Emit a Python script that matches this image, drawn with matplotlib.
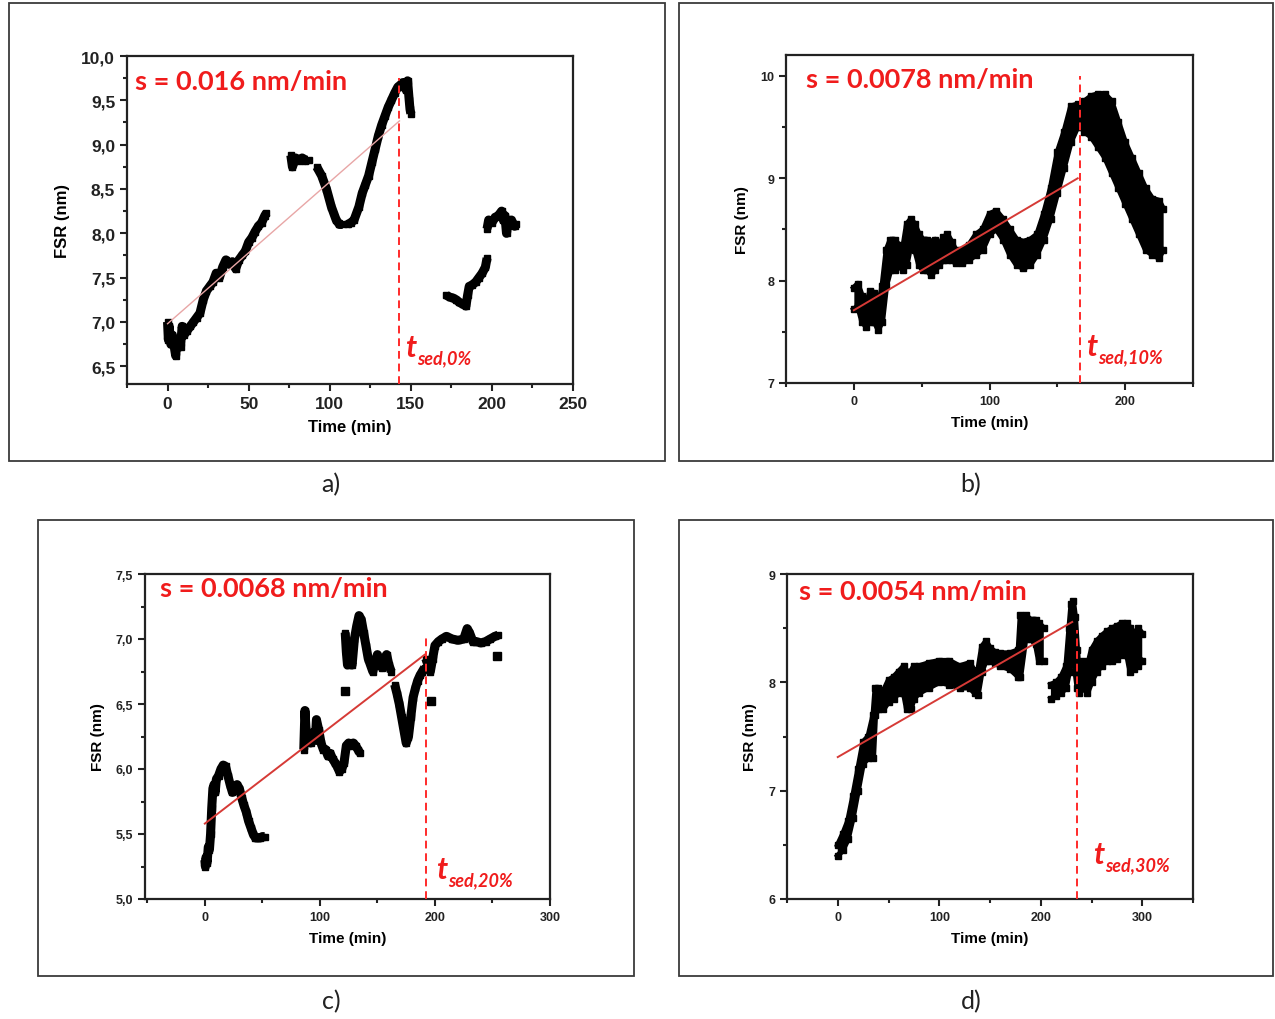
import numpy as np
import matplotlib
matplotlib.use("Agg")
import matplotlib.pyplot as plt
from matplotlib.patches import Rectangle
from matplotlib.ticker import MultipleLocator, FuncFormatter

nan = np.nan

# ---- panel a : FSR vs time, 0% ----
t_a = [0, 0.5, 1, 2, 3, 5, 6, 8, 9, 10, 12, 14, 16, 18, 20, 22, 24, 26, 28, 30, 32, 34, 36, 38, 40,
       42, 44, 46, 48, 50, 52, 54, 56, 58, 60, 61, nan,
       76, 77, 79, 81, 83, 85, 87, nan,
       92, 95, 98, 101, 104, 106, 108, nan,
       111, 113, 115, 118, 120, 122, 124, 126, 128, 130, 132, 134, 136, 138, 140, 142, 144, 145, 147,
       148, 149, 149.5, 150, nan,
       172, 174, 176, 178, 180, 182, 184, 185, 186, 188, 190, 192, 194, 196, 197, nan,
       197, 198, 200, 202, 204, 206, 207, 208, 209, 210, 212, 214, 215]
fsr_a = [7.0, 6.8, 6.95, 6.75, 6.85, 6.62, 6.8, 6.72, 6.95, 6.85, 6.9, 6.95, 7.0, 7.05, 7.1, 7.25,
         7.35, 7.4, 7.45, 7.55, 7.5, 7.62, 7.7, 7.65, 7.68, 7.6, 7.7, 7.75, 7.8, 7.9, 7.95, 8.02, 8.08,
         8.12, 8.2, 8.23, nan,
         8.88, 8.75, 8.85, 8.82, 8.85, 8.82, 8.83, nan,
         8.75, 8.65, 8.5, 8.3, 8.15, 8.1, 8.1, nan,
         8.1, 8.12, 8.15, 8.3, 8.45, 8.55, 8.65, 8.8, 8.95, 9.1, 9.22, 9.32, 9.42, 9.5, 9.58, 9.65,
         9.68, 9.7, 9.62, 9.72, 9.5, 9.4, 9.35, nan,
         7.3, 7.28, 7.27, 7.25, 7.22, 7.2, 7.18, 7.3, 7.4, 7.42, 7.45, 7.5, 7.55, 7.62, 7.72, nan,
         8.05, 8.15, 8.12, 8.18, 8.2, 8.25, 8.15, 8.2, 8.0, 8.12, 8.15, 8.08, 8.1]

# ---- panel b : 10% (noisy band, lower / upper edge) ----
t_b = [0, 3, 6, 9, 12, 15, 18, 21, 24, 27, 30, 33, 36, 39, 42, 45, 48, 51, 54, 57, 60, 63, 66, 69,
       72, 75, 80, 85, 90, 95, 100, 105, 110, 115, 120, 125, 130, 135, 140, 145, 150, 155, 160,
       165, 168, 170, 175, 180, 185, 190, 195, 200, 205, 210, 215, 220, 225, 228]
lo_b = [7.72, 7.75, 7.6, 7.55, 7.6, 7.6, 7.52, 7.6, 7.95, 8.1, 8.1, 8.15, 8.1, 8.15, 8.35, 8.3,
        8.15, 8.1, 8.1, 8.05, 8.1, 8.15, 8.2, 8.2, 8.2, 8.17, 8.17, 8.2, 8.25, 8.3, 8.45, 8.5, 8.4,
        8.25, 8.15, 8.12, 8.15, 8.25, 8.4, 8.6, 8.85, 9.1, 9.35, 9.5, 9.5, 9.45, 9.4, 9.3, 9.2,
        9.05, 8.9, 8.75, 8.6, 8.45, 8.3, 8.25, 8.22, 8.3]
hi_b = [7.93, 7.97, 7.85, 7.75, 7.9, 7.88, 7.75, 7.95, 8.3, 8.4, 8.4, 8.35, 8.3, 8.55, 8.6, 8.55,
        8.45, 8.4, 8.4, 8.38, 8.4, 8.35, 8.42, 8.45, 8.38, 8.3, 8.3, 8.35, 8.45, 8.5, 8.65, 8.68,
        8.6, 8.5, 8.4, 8.38, 8.4, 8.45, 8.65, 8.9, 9.25, 9.45, 9.7, 9.72, 9.7, 9.75, 9.8, 9.82,
        9.82, 9.75, 9.55, 9.35, 9.2, 9.05, 8.9, 8.8, 8.78, 8.7]

# ---- panel c : 20% ----
t_c = [0, 0.5, 1, 2, 3, 4, 5, 6, 7, 8, 9, 10, 12, 14, 16, 18, 20, 22, 24, 26, 28, 30, 32, 34, 36,
       38, 40, 42, 44, 46, 48, 50, 52, nan,
       86, 87, 88, 90, 92, 94, 96, 97, 99, 101, 103, 105, 107, 109, 111, 113, 115, 117, 119, 121,
       123, 125, 127, 129, 131, 133, 135, nan,
       122, 123, 124, 126, 128, 130, 132, 134, 136, 138, 140, 142, 144, 146, 148, 150, 152, 154,
       156, 158, 160, 162, nan,
       165, 167, 169, 171, 173, 175, 177, 179, 181, 183, 185, 187, 189, 191, nan,
       192, 194, 196, 198, 200, 203, 206, 210, 215, 220, 225, 228, 230, 233, 236, 240, 244, 248,
       252, 255]
fsr_c = [5.3, 5.25, 5.32, 5.28, 5.4, 5.38, 5.5, 5.7, 5.85, 5.88, 5.82, 5.92, 5.95, 6.0, 6.03, 6.02,
         5.95, 5.88, 5.82, 5.85, 5.88, 5.85, 5.78, 5.72, 5.67, 5.6, 5.55, 5.5, 5.47, 5.47, 5.47,
         5.48, 5.48, nan,
         6.15, 6.45, 6.3, 6.22, 6.2, 6.28, 6.22, 6.38, 6.3, 6.2, 6.15, 6.15, 6.1, 6.12, 6.08, 6.05,
         6.02, 5.98, 6.0, 6.05, 6.18, 6.2, 6.18, 6.2, 6.18, 6.15, 6.12, nan,
         7.05, 6.9, 6.8, 6.85, 6.8, 7.0, 7.1, 7.18, 7.15, 7.05, 6.95, 6.85, 6.8, 6.75, 6.82, 6.88,
         6.8, 6.78, 6.85, 6.88, 6.8, 6.75, nan,
         6.65, 6.58, 6.5, 6.4, 6.3, 6.2, 6.25, 6.4, 6.55, 6.62, 6.68, 6.72, 6.75, 6.78, nan,
         6.85, 6.8, 6.75, 6.85, 6.95, 6.98, 7.0, 7.02, 7.0, 6.99, 7.0, 7.08, 7.05, 6.98, 6.98, 6.97,
         6.98, 7.0, 7.02, 7.03]
t_c_single = [122, 197, 254]
fsr_c_single = [6.6, 6.52, 6.87]

# ---- panel d : 30% (noisy band, lower / upper edge) ----
t_d = [0, 5, 10, 15, 20, 25, 30, 35, 37, 40, 45, 50, 55, 60, 65, 68, 72, 75, 80, 90, 100, 110,
       120, 130, 135, 138, 142, 146, 150, 155, 160, 170, 178, 180, 185, 190, 195, 198, 203, nan,
       210, 215, 220, 225, 228, 230, 232, 234, 236, 238, 242, 246, 250, 255, 260, 265, 270, 275,
       280, 285, 288, 292, 296, 300]
lo_d = [6.4, 6.45, 6.55, 6.75, 7.0, 7.25, 7.3, 7.3, 7.7, 7.75, 7.75, 7.82, 7.85, 7.9, 7.9, 7.75,
        7.75, 7.85, 7.9, 7.95, 8.0, 7.98, 7.95, 7.95, 7.9, 7.88, 8.1, 8.2, 8.2, 8.18, 8.15, 8.12,
        8.05, 8.05, 8.4, 8.4, 8.35, 8.2, 8.2, nan,
        7.85, 7.87, 7.9, 7.95, 8.1, 8.3, 8.4, 8.1, 7.95, 7.9, 7.95, 7.9, 8.0, 8.1, 8.15, 8.2, 8.2,
        8.22, 8.25, 8.25, 8.1, 8.12, 8.15, 8.2]
hi_d = [6.5, 6.6, 6.72, 6.95, 7.2, 7.45, 7.5, 7.7, 7.95, 7.95, 7.92, 8.02, 8.05, 8.1, 8.15, 8.1,
        8.1, 8.15, 8.15, 8.18, 8.2, 8.2, 8.15, 8.18, 8.1, 8.1, 8.33, 8.38, 8.32, 8.28, 8.27, 8.27,
        8.3, 8.62, 8.62, 8.58, 8.58, 8.55, 8.5, nan,
        7.98, 8.0, 8.05, 8.15, 8.5, 8.72, 8.75, 8.6, 8.3, 8.05, 8.2, 8.15, 8.3, 8.38, 8.43, 8.47,
        8.5, 8.52, 8.55, 8.55, 8.5, 8.45, 8.5, 8.45]

# ---- linear fits and sedimentation times ----
slopes = [0.016, 0.0078, 0.0068, 0.0054]
intercepts = [6.98, 7.71, 5.58, 7.31]
fit_end = [143, 165, 191, 231]
t_sed = [143, 167, 192.5, 236]
sed_top = [9.75, 10.0, 7.04, 8.48]
slope_labels = ["s = 0.016 nm/min", "s = 0.0078 nm/min", "s = 0.0068 nm/min", "s = 0.0054 nm/min"]
sed_labels = ["sed,0%", "sed,10%", "sed,20%", "sed,30%"]
panel_names = ["a)", "b)", "c)", "d)"]

plt.rcParams['font.family'] = ['Liberation Sans', 'DejaVu Sans']
plt.rcParams['font.weight'] = 'bold'
plt.rcParams['axes.labelweight'] = 'bold'

W, H = 1275, 1020
fig = plt.figure(figsize=(W / 100, H / 100), dpi=100)


def px_rect(x0, y0, x1, y1):
    # pixel box (top-left origin) -> figure fraction [l, b, w, h]
    return [x0 / W, 1 - y1 / H, (x1 - x0) / W, (y1 - y0) / H]


# outer panel frames
for (x0, y0, x1, y1) in [(9, 4, 665, 462), (679, 4, 1273, 462), (38, 521, 634, 977), (679, 521, 1273, 977)]:
    l, b, w, h = px_rect(x0, y0, x1, y1)
    fig.patches.append(Rectangle((l, b), w, h, transform=fig.transFigure, fill=False,
                                 lw=1.3, ec='#3a3a3a'))

ax_a = fig.add_axes(px_rect(127, 57, 573, 385))
ax_b = fig.add_axes(px_rect(786, 56, 1193, 384))
ax_c = fig.add_axes(px_rect(145, 575, 550, 900))
ax_d = fig.add_axes(px_rect(787, 575, 1193, 900))
axes = [ax_a, ax_b, ax_c, ax_d]

comma = FuncFormatter(lambda v, p: f"{v:.1f}".replace(".", ","))

# data
ax_a.plot(t_a, fsr_a, '-s', color='black', lw=6.5, ms=5, solid_joinstyle='round',
          solid_capstyle='butt')
ax_c.plot(t_c, fsr_c, '-s', color='black', lw=6.5, ms=5, solid_joinstyle='round',
          solid_capstyle='butt')
ax_c.plot(t_c_single, fsr_c_single, 's', color='black', ms=6)
for ax, t, lo, hi in [(ax_b, t_b, lo_b, hi_b), (ax_d, t_d, lo_d, hi_d)]:
    ax.fill_between(t, lo, hi, color='black', lw=0)
    ax.plot(t, lo, '-s', color='black', lw=4, ms=4, solid_joinstyle='round')
    ax.plot(t, hi, '-s', color='black', lw=4, ms=4, solid_joinstyle='round')

fit_colors = ['#e8a6a6', '#d63a36', '#d63a36', '#d63a36']
fit_lw = [1.0, 1.4, 1.4, 1.4]
for i, ax in enumerate(axes):
    tt = np.array([0, fit_end[i]])
    ax.plot(tt, intercepts[i] + slopes[i] * tt, color=fit_colors[i], lw=fit_lw[i], zorder=4)

ylims = [(6.3, 10.0), (7.0, 10.2), (5.0, 7.5), (6.0, 9.0)]
xlims = [(-25, 250), (-50, 250), (-52, 300), (-50, 350)]
for i, ax in enumerate(axes):
    ax.plot([t_sed[i], t_sed[i]], [ylims[i][0], sed_top[i]], color='#ff2a2a', lw=1.4,
            dashes=(4, 2.5), zorder=5)

ax_a.xaxis.set_major_locator(MultipleLocator(50))
ax_a.xaxis.set_minor_locator(MultipleLocator(25))
ax_a.yaxis.set_major_locator(MultipleLocator(0.5))
ax_a.yaxis.set_minor_locator(MultipleLocator(0.25))
ax_a.yaxis.set_major_formatter(comma)
ax_c.yaxis.set_major_locator(MultipleLocator(0.5))
ax_c.yaxis.set_minor_locator(MultipleLocator(0.25))
ax_c.yaxis.set_major_formatter(comma)
for ax in [ax_b, ax_d]:
    ax.yaxis.set_major_locator(MultipleLocator(1))
    ax.yaxis.set_minor_locator(MultipleLocator(0.5))
for ax in [ax_b, ax_c, ax_d]:
    ax.xaxis.set_major_locator(MultipleLocator(100))
    ax.xaxis.set_minor_locator(MultipleLocator(50))

tick_size = [12.5, 9, 9, 9]
label_size = [12, 11, 11, 11]
text_pos = [(0.018, 0.924), (0.049, 0.927), (0.037, 0.957), (0.030, 0.948)]
sed_pos = [(0.623, 0.085), (0.737, 0.085), (0.719, 0.065), (0.754, 0.11)]
for i, ax in enumerate(axes):
    ax.set_xlim(*xlims[i])
    ax.set_ylim(*ylims[i])
    for s in ax.spines.values():
        s.set_linewidth(1.6)
        s.set_color('#222222')
    ax.tick_params(which='both', direction='out', top=False, right=False, width=1.5,
                   labelsize=tick_size[i], colors='#222222')
    ax.tick_params(which='major', length=5)
    ax.tick_params(which='minor', length=3)
    ax.set_xlabel("Time (min)", fontsize=label_size[i], labelpad=6)
    ax.set_ylabel("FSR (nm)", fontsize=label_size[i], labelpad=8)
    ax.text(text_pos[i][0], text_pos[i][1], slope_labels[i], transform=ax.transAxes,
            family='Lato', weight='bold', fontsize=19.5, color='#f01c1c', va='center', ha='left')
    ax.annotate("t", xy=sed_pos[i], xycoords='axes fraction', family='Lato', style='italic',
                weight='bold', fontsize=22, color='#f01c1c', va='baseline', ha='left')
    ax.annotate(sed_labels[i], xy=sed_pos[i], xycoords='axes fraction', xytext=(8.5, -5),
                textcoords='offset points', family='Lato', style='italic', weight='bold',
                fontsize=13, color='#f01c1c', va='baseline', ha='left')

for name, (x, y) in zip(panel_names, [(331, 485), (971, 485), (331, 1002), (971, 1002)]):
    fig.text(x / W, 1 - y / H, name, family='Lato', weight='normal', fontsize=18,
             ha='center', va='center', color='#222222')

fig.savefig("out.png", dpi=100)
